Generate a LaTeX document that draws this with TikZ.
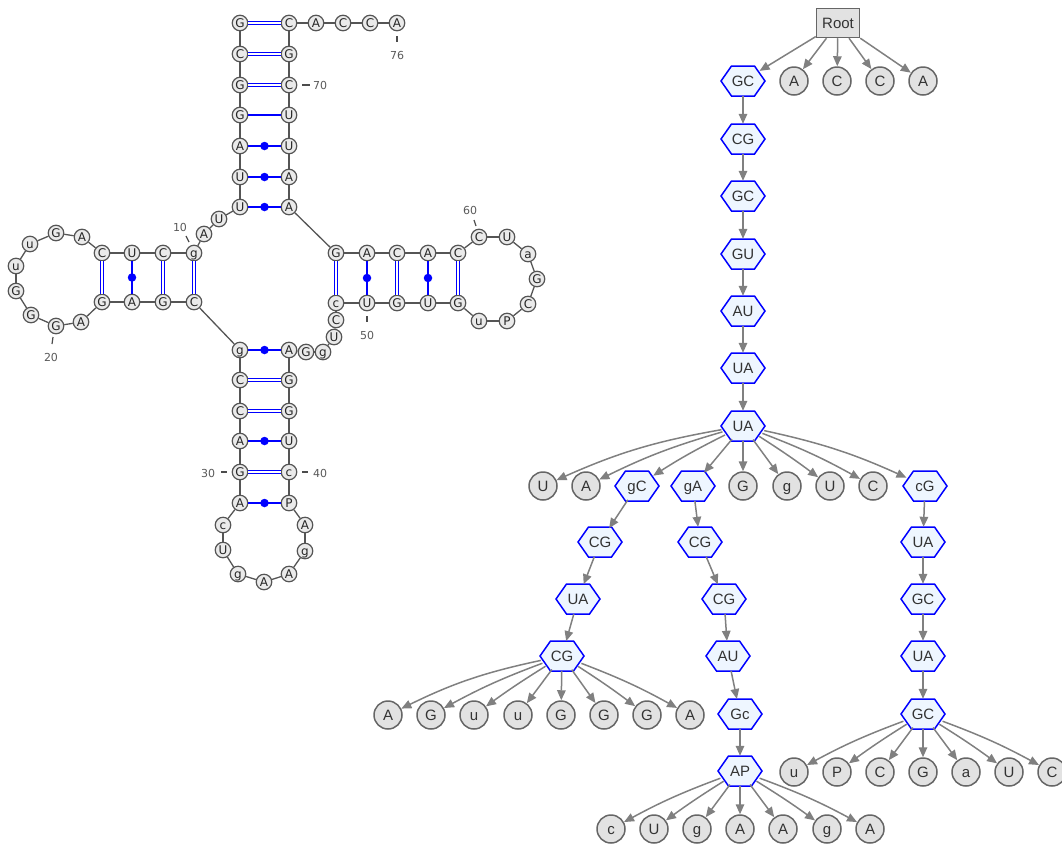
\documentclass[tikz,border=0pt]{standalone}
\usepackage{fontspec}
\setmainfont{Liberation Sans}
\newfontfamily\ntfont{DejaVu Sans}
\usetikzlibrary{shapes.geometric,arrows.meta}
\definecolor{ntfill}{HTML}{EAEAEA}
\definecolor{ntdraw}{HTML}{555555}
\definecolor{treefill}{HTML}{E2E2E2}
\definecolor{treedraw}{HTML}{666666}
\definecolor{arrgray}{HTML}{808080}
\definecolor{hexfill}{HTML}{EEF6FF}
\definecolor{hexblue}{HTML}{0000FF}
\definecolor{textdark}{HTML}{333333}
\tikzset{
  nt/.style={circle, draw=ntdraw, fill=ntfill, line width=1.2pt, minimum size=15.5pt, inner sep=0pt,
    font=\ntfont\fontsize{12}{12}\selectfont, text=black!85, text height=8.7pt, text depth=0pt},
  bb/.style={draw=ntdraw, line width=1.3pt},
  dbl/.style={draw=hexblue, line width=1.4pt, double=white, double distance=1.5pt},
  pl/.style={draw=hexblue, line width=1.6pt},
  bpdot/.style={circle, fill=hexblue, minimum size=8.5pt, inner sep=0pt},
  numlbl/.style={font=\ntfont\fontsize{11}{11}\selectfont, text=black!65, inner sep=0pt},
  tick/.style={draw=black!70, line width=1.2pt},
  leaf/.style={circle, draw=treedraw, fill=treefill, line width=1.5pt, minimum size=28pt, inner sep=0pt,
    font=\fontsize{15}{15}\selectfont, text=textdark, text height=10.7pt, text depth=0pt},
  rootbox/.style={rectangle, draw=treedraw, fill=treefill, line width=1.5pt, minimum width=43pt,
    minimum height=29pt, inner sep=0pt, font=\fontsize{15}{15}\selectfont, text=textdark,
    text height=10.7pt, text depth=0pt},
  hexn/.style={ellipse, minimum width=44pt, minimum height=30pt, inner sep=0pt,
    font=\fontsize{15}{15}\selectfont, text=textdark, text height=10.7pt, text depth=0pt},
  hexshape/.style={draw=hexblue, fill=hexfill, line width=1.5pt, line join=miter},
  arr/.style={draw=arrgray, line width=1.5pt, -{Triangle[length=10pt,width=8.5pt]}}
}
\newcommand\hexnode[4]{%
  \path[hexshape] (#2,#3) ++(-22,0) -- ++(10.5,15) -- ++(23,0) -- ++(10.5,-15) -- ++(-10.5,-15) -- ++(-23,0) -- cycle;
  \node[hexn] (#1) at (#2,#3) {#4};%
}
\begin{document}
\begin{tikzpicture}[x=1pt,y=-1pt]
\useasboundingbox (0,0) rectangle (1062,844);
% ---------------- tRNA secondary structure ----------------
\foreach \i/\x/\y/\t in {
 1/240/23/G, 2/240/54/C, 3/240/85/G, 4/240/115/G, 5/240/146/A, 6/240/177/U, 7/240/207/U,
 8/219/219/U, 9/204/234/A, 10/194/253/g, 11/163/253/C, 12/132/253/U, 13/102/253/C,
 14/82/237/A, 15/56/233/G, 16/30/244/u, 17/16/266/u, 18/16/291/G, 19/31/315/G, 20/56/326/G,
 21/81/322/A, 22/102/302/G, 23/132/302/A, 24/163/302/G, 25/194/302/C,
 26/240/350/g, 27/240/380/C, 28/240/411/C, 29/240/441/A, 30/240/472/G, 31/240/503/A,
 32/223/525/c, 33/223/550/U, 34/238/574/g, 35/264/582/A, 36/289/574/A, 37/305/551/g, 38/305/525/A,
 39/289/503/P, 40/289/472/c, 41/289/441/U, 42/289/411/G, 43/289/380/G, 44/289/350/A,
 45/306/352/G, 46/323/352/g, 47/334/337/U, 48/336/320/C, 49/336/303/c,
 50/367/303/U, 51/397/303/G, 52/428/303/U, 53/458/303/G,
 54/479/321/u, 55/507/321/P, 56/528/304/C, 57/537/279/G, 58/528/254/a, 59/507/237/U, 60/479/237/C,
 61/458/253/C, 62/428/253/A, 63/397/253/C, 64/367/253/A, 65/336/253/G,
 66/289/207/A, 67/289/177/A, 68/289/146/U, 69/289/115/U, 70/289/85/C, 71/289/54/G, 72/289/23/C,
 73/316/23/A, 74/343/23/C, 75/370/23/C, 76/397/23/A}
  \node[nt] (n\i) at (\x,\y) {\t};
% backbone
\foreach \i in {1,...,75}{
  \pgfmathtruncatemacro\j{\i+1}
  \draw[bb] (n\i) -- (n\j);
}
% base pairs
\foreach \a/\b in {1/72,2/71,3/70,10/25,11/24,13/22,27/43,28/42,30/40,49/65,51/63,53/61}
  \draw[dbl] (n\a) -- (n\b);
\foreach \a/\b in {5/68,6/67,7/66,12/23,26/44,29/41,31/39,50/64,52/62}
  \draw[pl] (n\a) -- (n\b) node[midway,bpdot] (d\a) {};
\draw[pl] (n4) -- (n69);
% numbering
\node[numlbl] (l10) at (180,227) {10}; \draw[tick] (186,236) -- (189,242);
\node[numlbl] (l20) at (51,357) {20};  \draw[tick] (53,337) -- (52,344);
\node[numlbl] (l30) at (208,473) {30}; \draw[tick] (221,472) -- (227,472);
\node[numlbl] (l40) at (320,473) {40}; \draw[tick] (302,472) -- (308,472);
\node[numlbl] (l50) at (367,335) {50}; \draw[tick] (367,316) -- (367,322);
\node[numlbl] (l60) at (470,210) {60}; \draw[tick] (474,220) -- (476,226);
\node[numlbl] (l70) at (320,85) {70};  \draw[tick] (302,85) -- (310,85);
\node[numlbl] (l76) at (397,55) {76};  \draw[tick] (397,36) -- (397,42);
% ---------------- tree ----------------
\node[rootbox] (root) at (838,23) {Root};
\hexnode{h1}{743}{81}{GC}
\hexnode{h2}{743}{139}{CG}
\hexnode{h3}{743}{196}{GC}
\hexnode{h4}{743}{254}{GU}
\hexnode{h5}{743}{311}{AU}
\hexnode{h6}{743}{368}{UA}
\hexnode{h7}{743}{426}{UA}
\hexnode{a3}{637}{486}{gC}
\hexnode{a4}{693}{486}{gA}
\hexnode{a9}{925}{486}{cG}
\hexnode{b1}{600}{542}{CG}
\hexnode{b2}{578}{599}{UA}
\hexnode{b3}{562}{656}{CG}
\hexnode{c1}{700}{542}{CG}
\hexnode{c2}{724}{599}{CG}
\hexnode{c3}{728}{656}{AU}
\hexnode{c4}{740}{714}{Gc}
\hexnode{c5}{740}{771}{AP}
\hexnode{e1}{923}{542}{UA}
\hexnode{e2}{923}{599}{GC}
\hexnode{e3}{923}{656}{UA}
\hexnode{e4}{923}{714}{GC}
\foreach \n/\x/\y/\t in {r1/794/81/A, r2/837/81/C, r3/880/81/C, r4/923/81/A,
  a1/543/486/U, a2/586/486/A, a5/743/486/G, a6/787/486/g, a7/830/486/U, a8/873/486/C,
  bl1/388/715/A, bl2/431/715/G, bl3/474/715/u, bl4/518/715/u, bl5/561/715/G, bl6/604/715/G, bl7/647/715/G, bl8/690/715/A,
  cl1/611/829/c, cl2/654/829/U, cl3/697/829/g, cl4/740/829/A, cl5/783/829/A, cl6/827/829/g, cl7/870/829/A,
  el1/794/772/u, el2/837/772/P, el3/880/772/C, el4/923/772/G, el5/966/772/a, el6/1009/772/U, el7/1052/772/C}
  \node[leaf] (\n) at (\x,\y) {\t};
% edges
\foreach \c in {h1,r1,r2,r3,r4} \draw[arr] (root) -- (\c);
\foreach \p/\c in {h1/h2,h2/h3,h3/h4,h4/h5,h5/h6,h6/h7,a3/b1,b1/b2,b2/b3,a4/c1,c1/c2,c2/c3,c3/c4,c4/c5,a9/e1,e1/e2,e2/e3,e3/e4}
  \draw[arr] (\p) -- (\c);
\foreach \c/\b in {a1/7,a2/5,a3/3,a4/0,a5/0,a6/0,a7/-2,a8/-4,a9/-6}
  \draw[arr] (h7) to[bend right=\b] (\c);
\foreach \c/\b in {bl1/7,bl2/4,bl3/2,bl4/0,bl5/0,bl6/0,bl7/-2,bl8/-4}
  \draw[arr] (b3) to[bend right=\b] (\c);
\foreach \c/\b in {cl1/4,cl2/2,cl3/0,cl4/0,cl5/0,cl6/-2,cl7/-4}
  \draw[arr] (c5) to[bend right=\b] (\c);
\foreach \c/\b in {el1/4,el2/2,el3/0,el4/0,el5/0,el6/-2,el7/-4}
  \draw[arr] (e4) to[bend right=\b] (\c);
\end{tikzpicture}
\end{document}
